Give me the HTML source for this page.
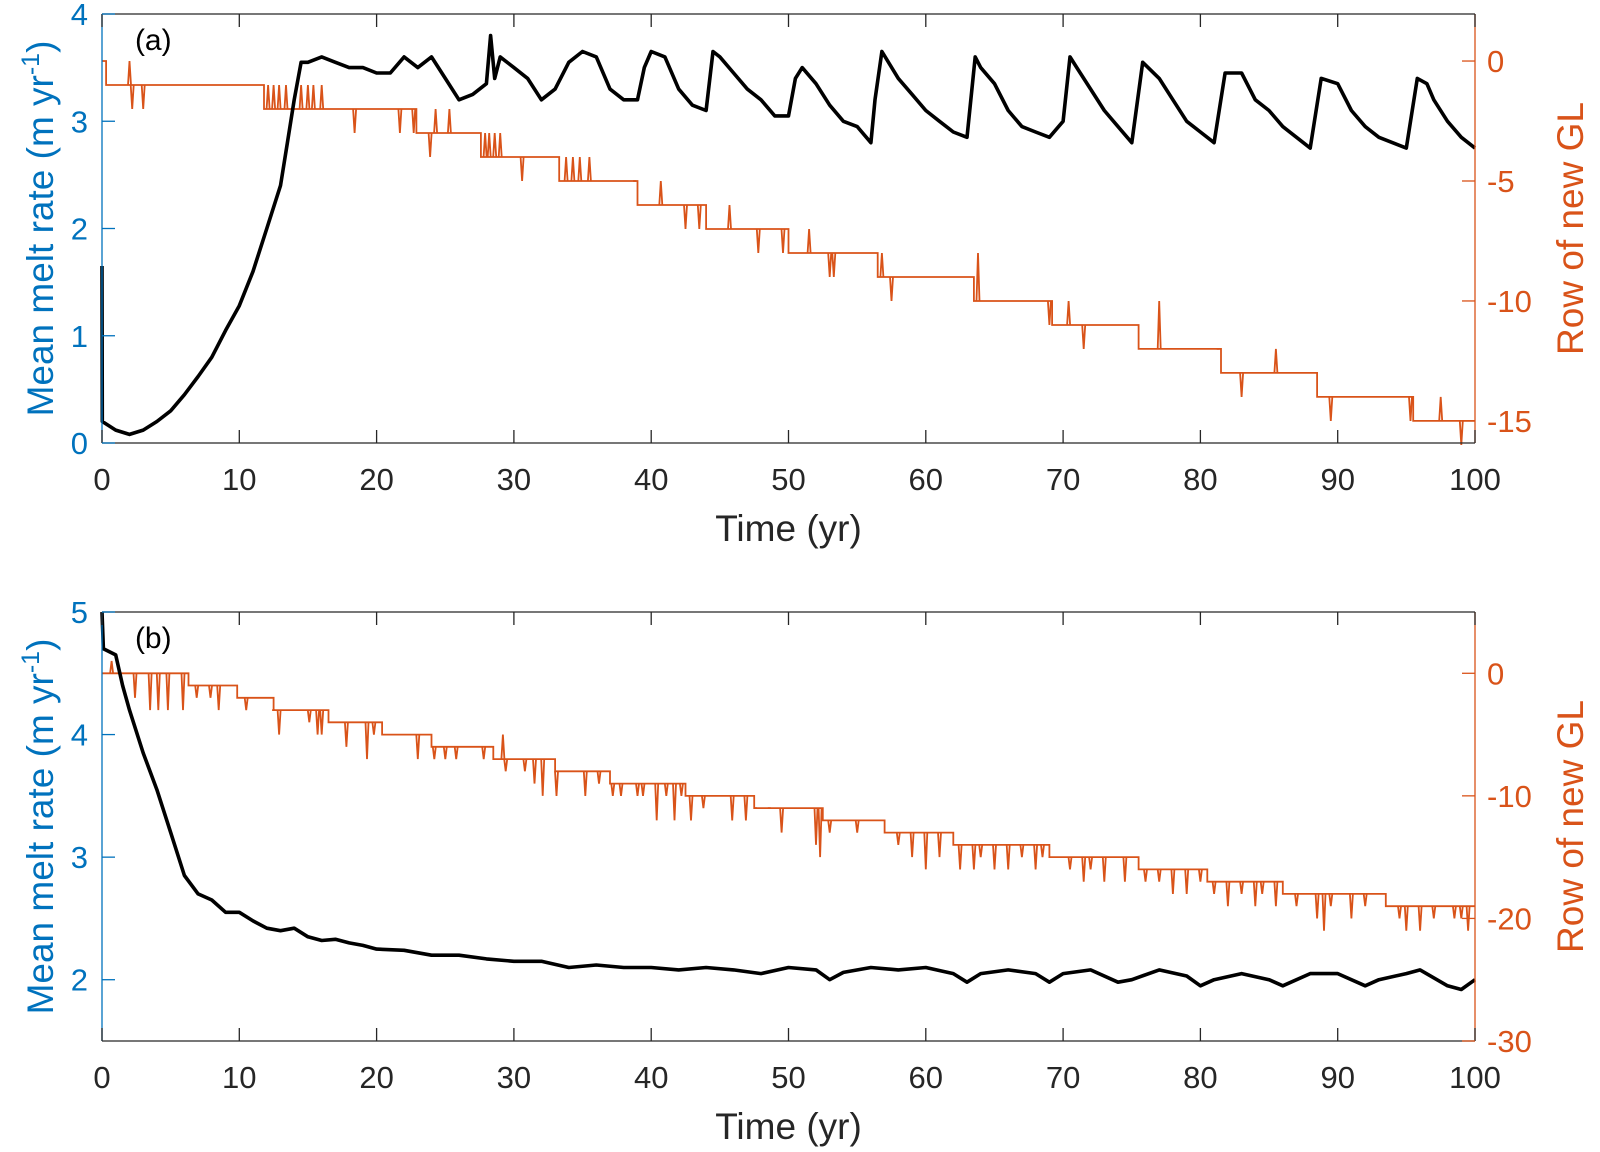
<!DOCTYPE html>
<html><head><meta charset="utf-8"><style>
body{margin:0;background:#fff}
svg{display:block;font-family:"Liberation Sans",Arial,sans-serif}
</style></head><body>
<svg id="fig" width="1600" height="1152" viewBox="0 0 1600 1152"></svg>
<script>
// ---------- Panel (a) data ----------
const aMeltT = [0,0.02,1,2,3,4,5,6,7,8,9,10,11,12,13,13.5,14,14.5,15,16,17,18,19,20,21,22,23,24,25,26,27,28,28.3,28.6,29,30,31,32,33,34,35,36,37,38,39,39.5,40,41,42,43,44,44.5,45,46,47,48,49,50,50.5,51,52,53,54,55,56,56.3,56.8,58,59,60,61,62,63,63.6,64,65,66,67,68,69,70,70.5,71,72,73,74,75,75.8,77,78,79,80,81,81.8,83,84,85,86,87,88,88.8,90,91,92,93,94,95,95.8,96.5,97,98,99,100];
const aMeltV = [1.65,0.2,0.12,0.08,0.12,0.2,0.3,0.45,0.62,0.8,1.05,1.28,1.6,2.0,2.4,2.8,3.2,3.55,3.55,3.6,3.55,3.5,3.5,3.45,3.45,3.6,3.5,3.6,3.4,3.2,3.25,3.35,3.8,3.4,3.6,3.5,3.4,3.2,3.3,3.55,3.65,3.6,3.3,3.2,3.2,3.5,3.65,3.6,3.3,3.15,3.1,3.65,3.6,3.45,3.3,3.2,3.05,3.05,3.4,3.5,3.35,3.15,3.0,2.95,2.8,3.2,3.65,3.4,3.25,3.1,3.0,2.9,2.85,3.6,3.5,3.35,3.1,2.95,2.9,2.85,3.0,3.6,3.5,3.3,3.1,2.95,2.8,3.55,3.4,3.2,3.0,2.9,2.8,3.45,3.45,3.2,3.1,2.95,2.85,2.75,3.4,3.35,3.1,2.95,2.85,2.8,2.75,3.4,3.35,3.2,3.0,2.85,2.75];
const aStepT = [0,0.3,11.8,22.9,27.6,33.3,39,44,50,56.5,63.5,69.2,75.5,81.5,88.5,95.5];
const aStepV = [0,-1,-2,-3,-4,-5,-6,-7,-8,-9,-10,-11,-12,-13,-14,-15];
const aSpikeT = [2.0,2.2,3.0,12.1,12.5,12.9,13.4,14.5,15.0,15.4,16.0,18.4,21.7,22.7,23.9,24.3,25.3,27.9,28.2,28.6,29.0,30.6,33.8,34.3,34.8,35.5,38.8,40.7,42.5,43.5,45.7,47.8,49.6,51.5,53.0,53.3,56.8,57.5,63.8,69.0,70.4,71.5,77.0,81.3,83.0,85.5,89.5,95.3,97.5,99.0];
const aSpikeV = [0,-2,-2,-1,-1,-1,-1,-1,-1,-1,-1,-3,-3,-3,-4,-2,-2,-3,-3,-3,-3,-5,-4,-4,-4,-4,-5,-5,-7,-7,-6,-8,-8,-7,-9,-9,-8,-10,-8,-11,-10,-12,-10,-12,-14,-12,-15,-15,-14,-16];
// ---------- Panel (b) data ----------
const bMeltT = [0,0.1,1,1.5,2,3,4,5,6,7,8,9,10,11,12,13,14,15,16,17,18,19,20,22,24,26,28,30,32,34,36,38,40,42,44,46,48,50,52,53,54,56,58,60,62,63,64,66,68,69,70,72,74,75,77,79,80,81,83,85,86,88,90,92,93,95,96,98,99,100];
const bMeltV = [5.0,4.7,4.65,4.4,4.2,3.85,3.55,3.2,2.85,2.7,2.65,2.55,2.55,2.48,2.42,2.4,2.42,2.35,2.32,2.33,2.3,2.28,2.25,2.24,2.2,2.2,2.17,2.15,2.15,2.1,2.12,2.1,2.1,2.08,2.1,2.08,2.05,2.1,2.08,2.0,2.06,2.1,2.08,2.1,2.05,1.98,2.05,2.08,2.05,1.98,2.05,2.08,1.98,2.0,2.08,2.03,1.95,2.0,2.05,2.0,1.95,2.05,2.05,1.95,2.0,2.05,2.08,1.95,1.92,2.0];
const bStepT = [0,6.3,9.85,12.5,16.5,20.4,24,28.5,33,37,42.5,47.5,52.5,57,62,69,75.5,80.5,86,93.5];
const bStepV = [0,-1,-2,-3,-4,-5,-6,-7,-8,-9,-10,-11,-12,-13,-14,-15,-16,-17,-18,-19];
const bSpikeT = [0.7,2.4,3.5,4.1,4.8,5.9,6.9,7.9,8.5,10.5,12.5,12.9,15.1,15.7,16.0,17.8,19.3,19.8,23.0,24.2,25.0,25.8,27.8,29.2,29.4,30.8,31.5,32.1,33.1,35.2,36.2,37.2,37.8,39.0,39.4,40.4,41.1,41.7,42.2,42.9,43.8,45.9,46.9,47.6,48.6,49.5,52,52.3,53,55,58,59,60,61,62.5,63.5,64,65,66,67,68,68.5,70.5,71.5,72,73,74.5,76,77,78,79,80,81,82,83,84,84.5,85.5,87,88.5,89,89.5,91,92,94.5,95,96,97,98.5,99,99.5];
const bSpikeV = [1,-2,-3,-3,-3,-3,-2,-2,-3,-3,-3,-5,-4,-5,-5,-6,-7,-5,-7,-7,-7,-7,-7,-5,-8,-8,-9,-10,-10,-10,-9,-10,-10,-10,-10,-12,-10,-12,-10,-12,-11,-12,-12,-11,-11,-13,-14,-15,-13,-13,-14,-15,-16,-15,-16,-16,-15,-16,-16,-15,-16,-15,-16,-17,-16,-17,-17,-17,-17,-18,-18,-17,-18,-19,-18,-19,-18,-19,-19,-20,-21,-19,-20,-19,-20,-21,-21,-20,-20,-20,-21];
const xTicks = [0,10,20,30,40,50,60,70,80,90,100];
const aLeftTicks = [0,1,2,3,4];
const aRightTicks = [0,-5,-10,-15];
const bLeftTicks = [2,3,4,5];
const bRightTicks = [0,-10,-20,-30];

const NS = "http://www.w3.org/2000/svg";
const svg = document.getElementById('fig');
const X0 = 102, X1 = 1475;
function xs(t){ return X0 + (t/100)*(X1-X0); }
function mk(tag, attrs, parent){ const e=document.createElementNS(NS,tag); for(const k in attrs) e.setAttribute(k,attrs[k]); (parent||svg).appendChild(e); return e; }
const BLUE="#0072BD", ORG="#D95319", AX="#262626";

function panel(cfg){
  const g = mk('g',{});
  
  
  const yl = v => cfg.top + (cfg.lMax - v)/(cfg.lMax-cfg.lMin)*(cfg.bot-cfg.top);
  const yr = v => cfg.top + (cfg.rMax - v)/(cfg.rMax-cfg.rMin)*(cfg.bot-cfg.top);
  let d = '';
  const pts=[];
  for(let i=0;i<cfg.stepT.length;i++){
    const tEnd = i+1<cfg.stepT.length ? cfg.stepT[i+1] : 100;
    pts.push([cfg.stepT[i], cfg.stepV[i], tEnd]);
  }
  const levelAt = t => { let v=cfg.stepV[0]; for(let i=0;i<cfg.stepT.length;i++) if(cfg.stepT[i]<=t) v=cfg.stepV[i]; return v; };
  pts.forEach((p,i)=>{ d += (i?'L':'M')+xs(p[0]).toFixed(1)+' '+yr(p[1]).toFixed(1)+'L'+xs(p[2]).toFixed(1)+' '+yr(p[1]).toFixed(1); });
  const step = mk('path',{d:d,fill:'none',stroke:ORG,'stroke-width':1.8},g);
  
  
  let sd='';
  cfg.spikeT.forEach((t,i)=>{ const L=levelAt(t); const x=xs(t);
    sd += 'M'+(x-1.5).toFixed(1)+' '+yr(L).toFixed(1)+'L'+x.toFixed(1)+' '+yr(cfg.spikeV[i]).toFixed(1)+'L'+(x+1.5).toFixed(1)+' '+yr(L).toFixed(1); });
  const sp = mk('path',{d:sd,fill:'none',stroke:ORG,'stroke-width':1.8},g);
  
  
  let md='';
  cfg.meltT.forEach((t,i)=>{ md += (i?'L':'M')+xs(t).toFixed(1)+' '+yl(cfg.meltV[i]).toFixed(1); });
  const ml = mk('path',{d:md,fill:'none',stroke:'#000','stroke-width':3.6,'stroke-linejoin':'round'},g);
  
  
  mk('line',{x1:X0,y1:cfg.top,x2:X1,y2:cfg.top,stroke:AX,'stroke-width':1.3},g);
  mk('line',{x1:X0,y1:cfg.bot,x2:X1,y2:cfg.bot,stroke:AX,'stroke-width':1.3},g);
  mk('line',{x1:X0,y1:cfg.top,x2:X0,y2:cfg.bot,stroke:BLUE,'stroke-width':1.3},g);
  mk('line',{x1:X1,y1:cfg.top,x2:X1,y2:cfg.bot,stroke:ORG,'stroke-width':1.3},g);
  xTicks.forEach(t=>{ const x=xs(t);
    mk('line',{x1:x,y1:cfg.bot,x2:x,y2:cfg.bot-13,stroke:AX,'stroke-width':1.3},g);
    mk('line',{x1:x,y1:cfg.top,x2:x,y2:cfg.top+13,stroke:AX,'stroke-width':1.3},g);
    const tx=mk('text',{x:x,y:cfg.bot+47,'text-anchor':'middle','font-size':31,fill:AX},g); tx.textContent=t;
    
    
  });
  cfg.lTicks.forEach(v=>{ const y=yl(v);
    mk('line',{x1:X0,y1:y,x2:X0+13,y2:y,stroke:BLUE,'stroke-width':1.3},g);
    const tx=mk('text',{x:X0-14,y:y+11,'text-anchor':'end','font-size':31,fill:BLUE},g); tx.textContent=v;
    
    
  });
  cfg.rTicks.forEach(v=>{ const y=yr(v);
    mk('line',{x1:X1,y1:y,x2:X1-13,y2:y,stroke:ORG,'stroke-width':1.3},g);
    const tx=mk('text',{x:X1+12,y:y+11,'text-anchor':'start','font-size':31,fill:ORG},g); tx.textContent=v;
    
    
  });
  const lab=mk('text',{x:xs(2.4),y:cfg.top+36,'font-size':30,fill:'#000'},g); lab.textContent=cfg.label;
  
  
  const xt=mk('text',{x:(X0+X1)/2,y:cfg.bot+98,'text-anchor':'middle','font-size':37,fill:AX},g); xt.textContent='Time (yr)';
  
  
  const cy=(cfg.top+cfg.bot)/2;
  const lt=mk('text',{x:0,y:0,'text-anchor':'middle','font-size':37,fill:BLUE,transform:'translate(53,'+cy+') rotate(-90)'},g);
  lt.innerHTML='Mean melt rate (m yr<tspan dy="-14" font-size="25">-1</tspan><tspan dy="14">)</tspan>';
  
  
  const rt=mk('text',{x:0,y:0,'text-anchor':'middle','font-size':37,fill:ORG,transform:'translate(1583,'+cy+') rotate(-90)'},g);
  rt.textContent='Row of new GL';
  
  
}
panel({name:'panel-a',top:14,bot:443,lMin:0,lMax:4,rMin:-15.92,rMax:1.96,meltT:aMeltT,meltV:aMeltV,stepT:aStepT,stepV:aStepV,spikeT:aSpikeT,spikeV:aSpikeV,lTicks:aLeftTicks,rTicks:aRightTicks,label:'(a)'});
panel({name:'panel-b',top:612,bot:1041,lMin:1.5,lMax:5,rMin:-30,rMax:5,meltT:bMeltT,meltV:bMeltV,stepT:bStepT,stepV:bStepV,spikeT:bSpikeT,spikeV:bSpikeV,lTicks:bLeftTicks,rTicks:bRightTicks,label:'(b)'});
</script>
</body></html>
